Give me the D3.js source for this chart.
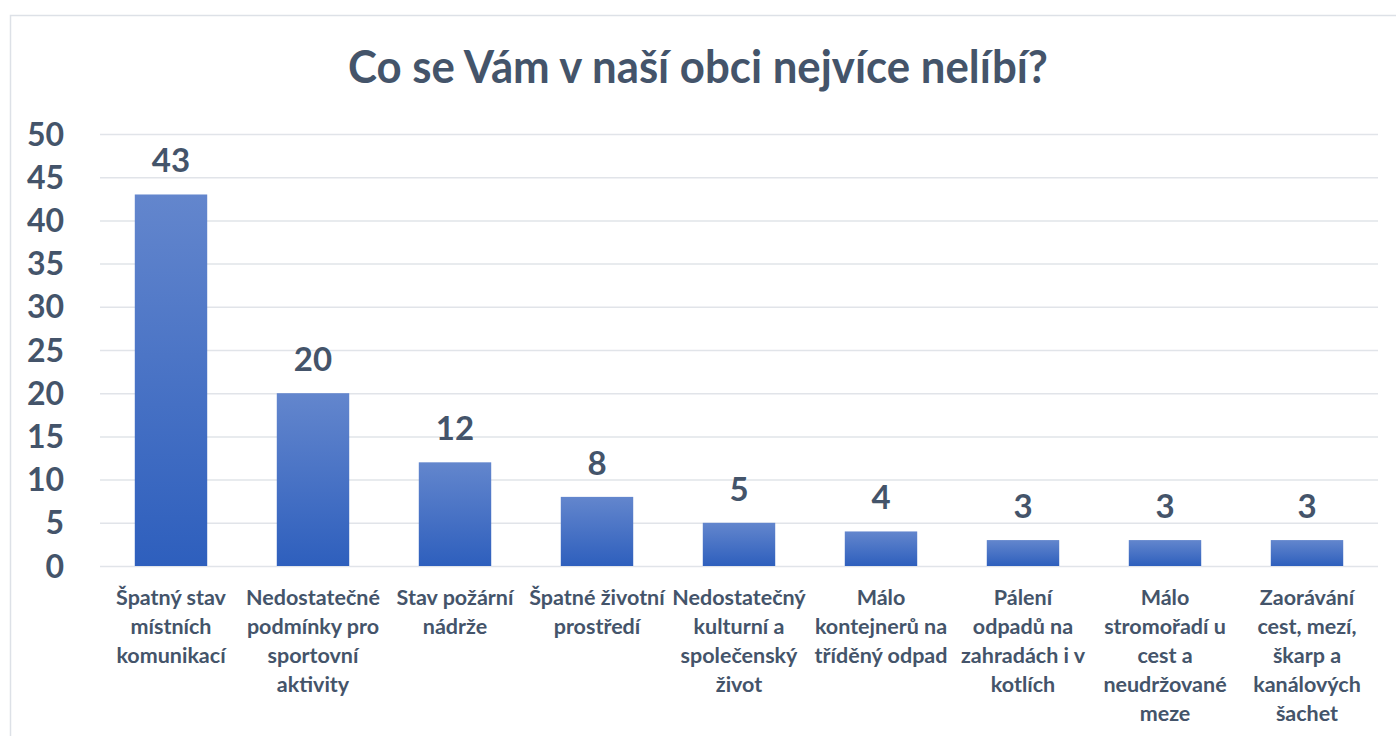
<!DOCTYPE html>
<html lang="cs">
<head>
<meta charset="UTF-8">
<script src="https://d3js.org/d3.v7.min.js"></script>
<style>
  body { margin: 0; background: #fff; }
  text { font-family: Lato, "Open Sans", sans-serif; font-weight: bold; fill: #44546a; }
  .grid line { stroke: #e1e4e9; stroke-width: 1.5; }
  .grid .domain { stroke: none; }
</style>
</head>
<body>
<svg id="chart" width="1396" height="736"></svg>
<script>
// chart data
const categories = [
  ["Špatný stav", "místních", "komunikací"],
  ["Nedostatečné", "podmínky pro", "sportovní", "aktivity"],
  ["Stav požární", "nádrže"],
  ["Špatné životní", "prostředí"],
  ["Nedostatečný", "kulturní a", "společenský", "život"],
  ["Málo", "kontejnerů na", "tříděný odpad"],
  ["Pálení", "odpadů na", "zahradách i v", "kotlích"],
  ["Málo", "stromořadí u", "cest a", "neudržované", "meze"],
  ["Zaorávání", "cest, mezí,", "škarp a", "kanálových", "šachet"]
];
const values = [43, 20, 12, 8, 5, 4, 3, 3, 3];
const yTicks = [0, 5, 10, 15, 20, 25, 30, 35, 40, 45, 50];
const title = "Co se Vám v naší obci nejvíce nelíbí?";

const svg = d3.select("#chart");
const margin = {left: 100, right: 18, top: 134, bottom: 170};
const width = 1396, height = 736;

// frame
svg.append("rect")
  .attr("x", 10.5).attr("y", 15.5)
  .attr("width", 1400).attr("height", 740)
  .attr("fill", "#fff").attr("stroke", "#dde1e7").attr("stroke-width", 1.5);

const defs = svg.append("defs");
const grad = defs.append("linearGradient").attr("id", "barGrad")
  .attr("x1", 0).attr("y1", 0).attr("x2", 0).attr("y2", 1);
grad.append("stop").attr("offset", "0%").attr("stop-color", "#6386cd");
grad.append("stop").attr("offset", "100%").attr("stop-color", "#2e5fbd");

const idx = d3.range(values.length);
const x = d3.scaleBand().domain(idx)
  .range([margin.left, width - margin.right])
  .paddingInner(0.49).paddingOuter(0.245);
const y = d3.scaleLinear().domain([0, 50])
  .range([height - margin.bottom, margin.top]);

// gridlines
svg.append("g").attr("class", "grid")
  .attr("transform", "translate(" + margin.left + ",0)")
  .call(d3.axisLeft(y).tickValues(yTicks)
    .tickSize(-(width - margin.right - margin.left)).tickFormat(""));

// y labels
svg.append("g").selectAll("text").data(yTicks).join("text")
  .attr("x", 64).attr("y", d => y(d))
  .attr("dy", "0.36em")
  .attr("text-anchor", "end")
  .style("font-size", "32px")
  .text(d => d);

// bars
svg.append("g").selectAll("rect").data(idx).join("rect")
  .attr("x", i => x(i))
  .attr("y", i => y(values[i]))
  .attr("width", x.bandwidth())
  .attr("height", i => y(0) - y(values[i]))
  .attr("fill", "url(#barGrad)");

// value labels
svg.append("g").selectAll("text").data(idx).join("text")
  .attr("x", i => x(i) + x.bandwidth() / 2)
  .attr("y", i => y(values[i]) - 22)
  .attr("text-anchor", "middle")
  .style("font-size", "33px")
  .text(i => values[i]);

// category labels
const cat = svg.append("g").selectAll("text").data(idx).join("text")
  .attr("text-anchor", "middle")
  .style("font-size", "21.5px");
cat.selectAll("tspan").data(i => categories[i].map(l => ({i, l})))
  .join("tspan")
  .attr("x", d => x(d.i) + x.bandwidth() / 2)
  .attr("y", (d, k) => 605 + k * 29)
  .text(d => d.l);

// title
svg.append("text")
  .attr("x", 698).attr("y", 83)
  .attr("text-anchor", "middle")
  .attr("textLength", 700).attr("lengthAdjust", "spacingAndGlyphs")
  .style("font-size", "46px")
  .text(title);
</script>
</body>
</html>
